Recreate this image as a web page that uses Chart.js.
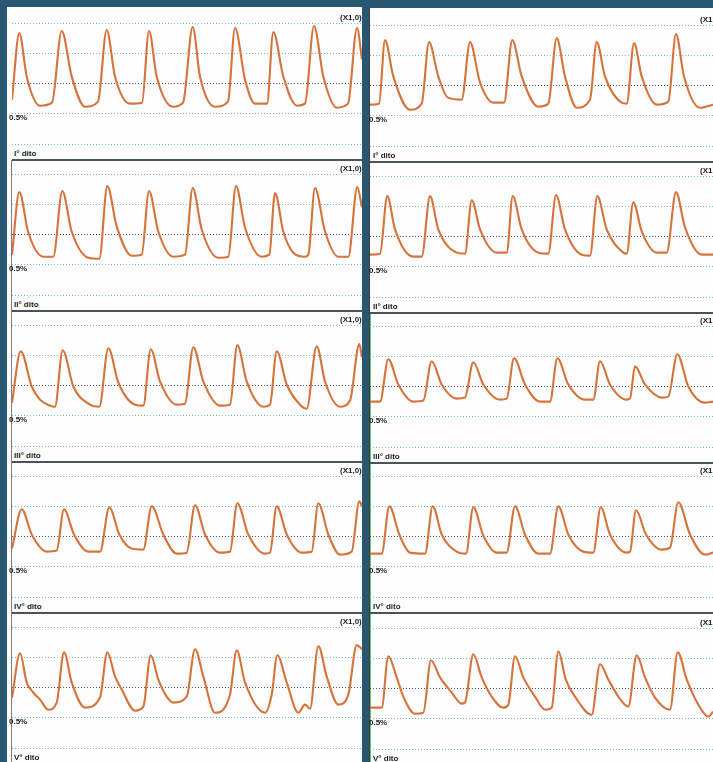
<!DOCTYPE html>
<html>
<head>
<meta charset="utf-8">
<script src="https://cdn.jsdelivr.net/npm/chart.js"></script>
<style>
html, body { margin: 0; padding: 0; }
body { width: 713px; height: 762px; background: #295771; position: relative; overflow: hidden;
       font-family: "Liberation Sans", Arial, sans-serif; }
.paper { position: absolute; background: #fdfdfd; }
.lbl { position: absolute; font-size: 8px; font-weight: bold; color: #1e1e1e; white-space: nowrap; line-height: 8px; }
.sep { position: absolute; height: 2px; background: #4a525c; }
.vline { position: absolute; width: 1px; }
canvas { position: absolute; }
</style>
</head>
<body>
<div class="paper" style="left:7px;top:7px;width:355px;height:755px"></div>
<div class="paper" style="left:369px;top:8px;width:344px;height:754px"></div>
<div class="vline" style="left:11px;top:160px;height:602px;background:#7a7f85"></div>
<div class="vline" style="left:369px;top:8px;height:754px;background:#3a3f48"></div>
<div class="vline" style="left:370px;top:312px;height:450px;background:#5fc36a"></div>

<script>
// row labels
const dita = ['I° dito', 'II° dito', 'III° dito', 'IV° dito', 'V° dito'];

// left column (sx): sample time / amplitude above the lowest grid line
const t_I_sx = [0,7.3,14.7,28,40, 49.7,59.7,73,86, 94.7,103,118,130, 137,144.7,161,171, 180.7,188,203,216, 223,233,243,255, 261.3,271.3,285,293, 302,311.3,325,336, 345,350];
const v_I_sx = [44,110,67,38,41, 112,67,37,42, 113,67,40,41, 112,67,37,41, 116,67,37,42, 115,64,40,40, 111,67,38,40, 117,67,36,40, 115,84];

const t_II_sx = [0,7.3,16.3,31.3,41.3, 50.3,59.7,76.3,87.3, 95.3,104.7,119.7,129.7, 137,146.3,161.3,173, 180.7,189.7,206.3,216.3, 224,233,249.7,257.3, 263,271.3,281.3,293,296.3, 303,313,326.3,336.3, 345.3,350];
const v_II_sx = [40,102,62,38,38, 103,63,37,36, 108,68,39,40, 103,63,38,40, 106,65,37,38, 108,67,38,40, 101,63,42,38,40, 106,63,38,38, 107,87];

const t_III_sx = [0,8.7,19.7,28,38,43, 50.7,61.3,78,87.3, 96.3,106.3,123,131.3, 138.7,148,164.7,173, 181.3,191.3,208,218, 225.3,234.7,251.3,258, 264.7,274.7,288,294.7, 304.7,313,328,338, 347.3,350];
const v_III_sx = [43,94,59,46,40,39, 95,59,41,39, 97,63,41,40, 96,64,41,42, 98,64,40,41, 100,64,39,41, 94,61,41,37, 99,64,39,45, 101,88];

const t_IV_sx = [0,9.7,19.7,34.7,44.7, 52,62,76.3,88, 97.3,107.3,119.7,131.3, 139.7,151.3,164.7,174.7, 183,193,208,218, 225.3,236.3,253,258, 264.7,274.7,289.7,299.7, 306.3,316.3,328,339.7, 347.3,350];
const v_IV_sx = [48,87,62,45,46, 87,62,45,45, 89,62,48,47, 90,62,43,44, 91,62,44,45, 93,62,43,44, 90,62,44,45, 93,62,42,45, 95,90];

const t_V_sx = [0,8,14.7,21.3,28,36.3,44.7, 52,59.7,73,88, 95.3,103,109.7,123,131.3, 138.7,146.3,154.7,161.3,174.7, 183,191.3,203,218, 224.7,233,253,259.7, 265.3,274.7,286.3,293,298, 306.3,314.7,326.3,336.3, 344.7,350];
const v_V_sx = [50,94,65,55,48,38,45, 95,65,40,50, 95,71,58,37,41, 92,68,51,45,51, 98,71,35,53, 97,65,35,53, 92,65,35,43,39, 101,71,43,53, 102,98];

// right column (dx)
const t_I_dx = [0,9,15,23.3,40,51.7, 59,68.3,78,91.7, 100,110,123.3,134, 142.3,151.7,168.3,178.3, 186.7,195,206.7,220, 226.7,235,251.7,256.7, 264,271.7,286.7,298.3, 306,314,330,343];
const v_I_dx = [41,42,105,69,36,42, 103,69,48,46, 103,63,43,43, 105,69,39,42, 107,69,38,46, 103,69,43,42, 102,69,41,44, 111,69,38,41];

const t_II_dx = [0,10,17.3,25,43.3,51.7, 60,68.3,86.7,95, 101.7,110,126.7,136.7, 142.7,151.7,168.3,178.3, 186,195,211.7,220, 227.3,236.7,253.3,256.7, 263.3,271.7,286.7,296.7, 306,315,331.7,343];
const v_II_dx = [42,43,100,67,40,40, 100,67,44,43, 96,67,44,44, 100,67,44,43, 101,67,42,41, 100,67,44,43, 94,65,44,44, 104,69,42,42];

const t_III_dx = [0,10,18.3,28.3,43.3,53.3, 61.7,71.7,86.7,95, 103.3,113.3,130,136.7, 144,155,170,180, 187.3,198.3,215,223.3, 230,240,256.7,260, 265,275,291.7,298.3, 307.3,318.3,335,343];
const v_III_dx = [45,45,87,62,45,46, 85,62,48,49, 84,62,47,48, 88,62,45,45, 88,62,47,47, 85,62,47,48, 80,62,49,50, 92,60,44,45];

const t_IV_dx = [0,11.7,19.3,29.3,40,55, 62.7,71.7,86.7,96, 103.3,113.3,126.7,136.7, 145,155,168.3,180, 188.3,198.3,213.3,223.3, 230.7,240,256.7,260, 266,276,291.7,300, 308.3,320,335,343];
const v_IV_dx = [43,43,90,62,44,43, 90,62,45,43, 89,61,44,44, 90,62,43,43, 90,62,45,44, 89,62,44,45, 86,62,47,49, 94,62,42,44];

const t_V_dx = [0,11.7,18.3,26.7,33.3,45,53.3, 61,70,81.7,91.7,95, 103.3,111.7,121.7,133.3,138.3, 145,153.3,165,175,181.7, 188.3,195.7,205,221.7, 230,238.3,248.3,258.3, 266.7,275,285,300, 307.7,316.7,328.3,338.3, 343];
const v_V_dx = [41,41,92,71,52,35,36, 88,71,56,45,46, 94,71,52,41,44, 92,71,52,39,41, 97,69,52,34, 84,69,52,42, 93,71,51,39, 96,69,44,32, 37];

const gridTicks = [0, 30, 60, 90, 120];

const series = [
  [[t_I_sx, v_I_sx], [t_II_sx, v_II_sx], [t_III_sx, v_III_sx], [t_IV_sx, v_IV_sx], [t_V_sx, v_V_sx]],
  [[t_I_dx, v_I_dx], [t_II_dx, v_II_dx], [t_III_dx, v_III_dx], [t_IV_dx, v_IV_dx], [t_V_dx, v_V_dx]]
];

const colLeft = [12, 370];
const colWidth = [350, 343];
const bottomY = [[144, 295, 446, 597, 748], [146, 297, 447, 597, 749]];
const SPAN = 121;
const PAD = 4;

function addLabel(text, left, top) {
  const d = document.createElement('div');
  d.className = 'lbl';
  d.textContent = text;
  d.style.left = left + 'px';
  d.style.top = top + 'px';
  document.body.appendChild(d);
}

function drawPanel(t, v, col, row) {
  const w = colWidth[col], h = SPAN + 2 * PAD;
  const c = document.createElement('canvas');
  c.width = w; c.height = h;
  c.style.left = colLeft[col] + 'px';
  c.style.top = (bottomY[col][row] - SPAN - PAD) + 'px';
  document.body.appendChild(c);

  new Chart(c, {
    type: 'line',
    data: {
      datasets: [{
        data: t.map((x, i) => ({ x: x, y: v[i] })),
        borderColor: '#d5733a',
        borderWidth: 2.1,
        pointRadius: 0,
        cubicInterpolationMode: 'monotone',
        fill: false
      }]
    },
    options: {
      responsive: false,
      animation: false,
      events: [],
      layout: { padding: { top: PAD, bottom: PAD, left: 0, right: 0 } },
      plugins: { legend: { display: false }, tooltip: { enabled: false } },
      scales: {
        x: { type: 'linear', min: 0, max: w, display: false },
        y: {
          min: 0, max: 120,
          afterBuildTicks: (axis) => { axis.ticks = gridTicks.map(value => ({ value })); },
          ticks: { display: false },
          border: { display: false, dash: [1, 2] },
          grid: {
            drawTicks: false,
            lineWidth: 1,
            color: (ctx) => (ctx.tick && ctx.tick.value === 60) ? '#55557a' : '#72c0c3'
          }
        }
      }
    }
  });
}

for (let col = 0; col < 2; col++) {
  for (let row = 0; row < 5; row++) {
    const b = bottomY[col][row];
    drawPanel(series[col][row][0], series[col][row][1], col, row);
    addLabel('(X1,0)', col === 0 ? 340 : 700, b - SPAN - 9);
    addLabel('0.5%', col === 0 ? 9 : 369, b - 30);
    addLabel(dita[row], col === 0 ? 14 : 373, b + 6);
    const s = document.createElement('div');
    s.className = 'sep';
    s.style.left = colLeft[col] + 'px';
    s.style.width = colWidth[col] + 'px';
    s.style.top = (b + 15) + 'px';
    document.body.appendChild(s);
  }
}
</script>
</body>
</html>
